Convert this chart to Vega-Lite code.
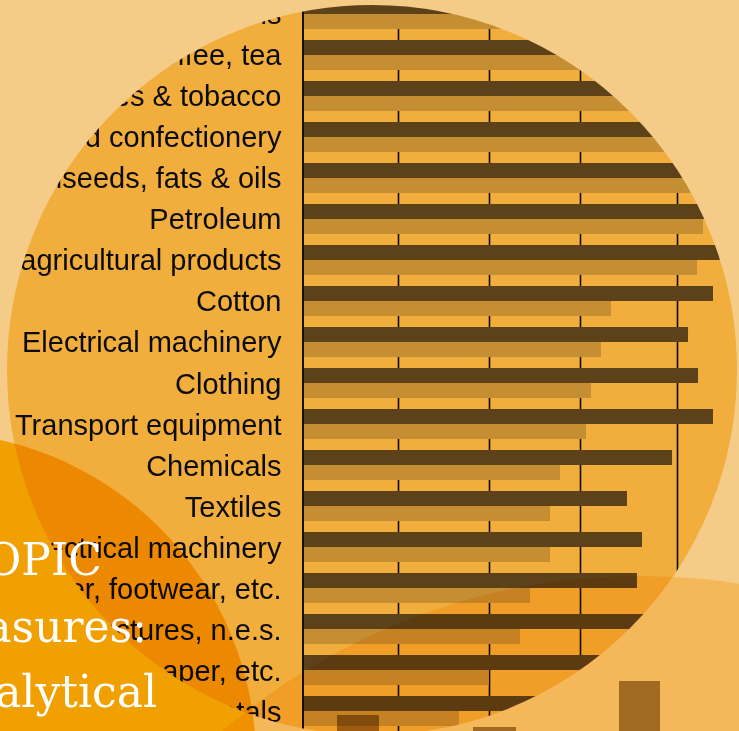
{
  "$schema": "https://vega.github.io/schema/vega-lite/v6.json",
  "width": 739,
  "height": 731,
  "autosize": {"type": "none"},
  "padding": 0,
  "background": "#F1AE3D",
  "config": {"view": {"stroke": null}},
  "datasets": {
    "bars": [
      {"product": "Cereals & preparations", "series": "Series 1", "value": 4.6},
      {"product": "Cereals & preparations", "series": "Series 2", "value": 4.4},
      {"product": "Coffee, tea", "series": "Series 1", "value": 4.6},
      {"product": "Coffee, tea", "series": "Series 2", "value": 4.4},
      {"product": "Beverages & tobacco", "series": "Series 1", "value": 4.6},
      {"product": "Beverages & tobacco", "series": "Series 2", "value": 4.4},
      {"product": "Sugars and confectionery", "series": "Series 1", "value": 4.6},
      {"product": "Sugars and confectionery", "series": "Series 2", "value": 4.4},
      {"product": "Oilseeds, fats & oils", "series": "Series 1", "value": 4.6},
      {"product": "Oilseeds, fats & oils", "series": "Series 2", "value": 4.4},
      {"product": "Petroleum", "series": "Series 1", "value": 4.6},
      {"product": "Petroleum", "series": "Series 2", "value": 4.278},
      {"product": "Other agricultural products", "series": "Series 1", "value": 4.6},
      {"product": "Other agricultural products", "series": "Series 2", "value": 4.214},
      {"product": "Cotton", "series": "Series 1", "value": 4.385},
      {"product": "Cotton", "series": "Series 2", "value": 3.294},
      {"product": "Electrical machinery", "series": "Series 1", "value": 4.118},
      {"product": "Electrical machinery", "series": "Series 2", "value": 3.187},
      {"product": "Clothing", "series": "Series 1", "value": 4.225},
      {"product": "Clothing", "series": "Series 2", "value": 3.08},
      {"product": "Transport equipment", "series": "Series 1", "value": 4.385},
      {"product": "Transport equipment", "series": "Series 2", "value": 3.027},
      {"product": "Chemicals", "series": "Series 1", "value": 3.947},
      {"product": "Chemicals", "series": "Series 2", "value": 2.749},
      {"product": "Textiles", "series": "Series 1", "value": 3.465},
      {"product": "Textiles", "series": "Series 2", "value": 2.642},
      {"product": "Non-electrical machinery", "series": "Series 1", "value": 3.626},
      {"product": "Non-electrical machinery", "series": "Series 2", "value": 2.642},
      {"product": "Leather, footwear, etc.", "series": "Series 1", "value": 3.572},
      {"product": "Leather, footwear, etc.", "series": "Series 2", "value": 2.428},
      {"product": "Manufactures, n.e.s.", "series": "Series 1", "value": 3.9},
      {"product": "Manufactures, n.e.s.", "series": "Series 2", "value": 2.321},
      {"product": "Wood, paper, etc.", "series": "Series 1", "value": 3.8},
      {"product": "Wood, paper, etc.", "series": "Series 2", "value": 1.989},
      {"product": "Minerals & metals", "series": "Series 1", "value": 3.7},
      {"product": "Minerals & metals", "series": "Series 2", "value": 1.668}
    ]
  },
  "resolve": {"scale": {"x": "independent", "y": "independent"}},
  "layer": [
    {
      "layer": [
        {
          "data": {"name": "bars"},
          "mark": {"type": "bar"},
          "encoding": {
            "y": {
              "field": "product",
              "type": "nominal",
              "sort": null,
              "scale": {"range": [-6.5, 731.5], "paddingInner": 0.2683, "paddingOuter": 0.1341},
              "axis": {
                "orient": "left",
                "offset": -303,
                "domain": false,
                "ticks": false,
                "tickSize": 0,
                "grid": false,
                "labelPadding": 22,
                "labelFont": "Liberation Sans",
                "labelFontSize": 29,
                "labelColor": "#0b0b0b",
                "labelLimit": 1000,
                "labelOverlap": false,
                "labelOffset": 1.5,
                "title": null
              }
            },
            "yOffset": {
              "field": "series",
              "type": "nominal",
              "scale": {"paddingInner": 0, "paddingOuter": 0}
            },
            "x": {
              "field": "value",
              "type": "quantitative",
              "scale": {"domain": [0, 4], "range": [303, 677], "nice": false, "zero": true},
              "axis": {
                "values": [1.013, 1.989, 2.966, 4],
                "grid": true,
                "gridColor": "#0d0a05",
                "gridWidth": 1.6,
                "gridOpacity": 1,
                "labels": false,
                "ticks": false,
                "domain": false,
                "title": null
              }
            },
            "color": {
              "field": "series",
              "type": "nominal",
              "scale": {"domain": ["Series 1", "Series 2"], "range": ["#5D4118", "#C58E32"]},
              "legend": null
            }
          }
        },
        {
          "data": {"values": [{"base": 0}]},
          "mark": {"type": "rule", "color": "#140e05", "strokeWidth": 2},
          "encoding": {"x": {"field": "base", "type": "quantitative"}}
        }
      ]
    },
    {
      "layer": [
        {
          "data": {"values": [{"shape": "outside of disc", "px": 50.338, "py": 50.616}]},
          "mark": {"type": "point", "shape": "circle", "filled": false, "stroke": "#F4CB87", "strokeWidth": 200, "size": 864900, "opacity": 1, "strokeOpacity": 1},
          "encoding": {
            "x": {"field": "px", "type": "quantitative", "scale": {"domain": [0, 100], "nice": false, "zero": false}, "axis": null},
            "y": {"field": "py", "type": "quantitative", "scale": {"domain": [0, 100], "reverse": true, "nice": false, "zero": false}, "axis": null}
          }
        },
        {
          "data": {"values": [{"shape": "lower left disc", "px": -9.743, "py": 103.967}]},
          "mark": {"type": "point", "shape": "circle", "filled": true, "fill": "#FBC900", "strokeWidth": 0, "size": 430336, "opacity": 1, "blend": "multiply"},
          "encoding": {
            "x": {"field": "px", "type": "quantitative", "scale": {"domain": [0, 100], "nice": false, "zero": false}, "axis": null},
            "y": {"field": "py", "type": "quantitative", "scale": {"domain": [0, 100], "reverse": true, "nice": false, "zero": false}, "axis": null}
          }
        },
        {
          "data": {"values": [{"shape": "lower right disc", "px": 86.604, "py": 166.347}]},
          "mark": {"type": "point", "shape": "circle", "filled": true, "fill": "#FFE7AB", "strokeWidth": 0, "size": 1638400, "opacity": 1, "blend": "multiply"},
          "encoding": {
            "x": {"field": "px", "type": "quantitative", "scale": {"domain": [0, 100], "nice": false, "zero": false}, "axis": null},
            "y": {"field": "py", "type": "quantitative", "scale": {"domain": [0, 100], "reverse": true, "nice": false, "zero": false}, "axis": null}
          }
        },
        {
          "data": {"values": [
            {"px": 45.602, "px2": 51.286, "py": 97.811, "py2": 105},
            {"px": 64.005, "px2": 69.824, "py": 99.453, "py2": 105},
            {"px": 83.762, "px2": 89.31, "py": 93.16, "py2": 105}
          ]},
          "mark": {"type": "bar", "color": "#A7935A", "opacity": 1, "blend": "multiply"},
          "encoding": {
            "x": {"field": "px", "type": "quantitative", "scale": {"domain": [0, 100], "nice": false, "zero": false}, "axis": null},
            "x2": {"field": "px2"},
            "y": {"field": "py", "type": "quantitative", "scale": {"domain": [0, 100], "reverse": true, "nice": false, "zero": false}, "axis": null},
            "y2": {"field": "py2"}
          }
        },
        {
          "data": {"values": [
            {"label": "TOPIC", "px": 13.802, "py": 78.659},
            {"label": "Measures:", "px": 19.892, "py": 87.825},
            {"label": "Analytical", "px": 21.245, "py": 96.717}
          ]},
          "mark": {"type": "text", "align": "right", "baseline": "alphabetic", "font": "DejaVu Serif", "fontSize": 44, "color": "#FFFFFF"},
          "encoding": {
            "x": {"field": "px", "type": "quantitative", "scale": {"domain": [0, 100], "nice": false, "zero": false}, "axis": null},
            "y": {"field": "py", "type": "quantitative", "scale": {"domain": [0, 100], "reverse": true, "nice": false, "zero": false}, "axis": null},
            "text": {"field": "label"}
          }
        }
      ]
    }
  ]
}
